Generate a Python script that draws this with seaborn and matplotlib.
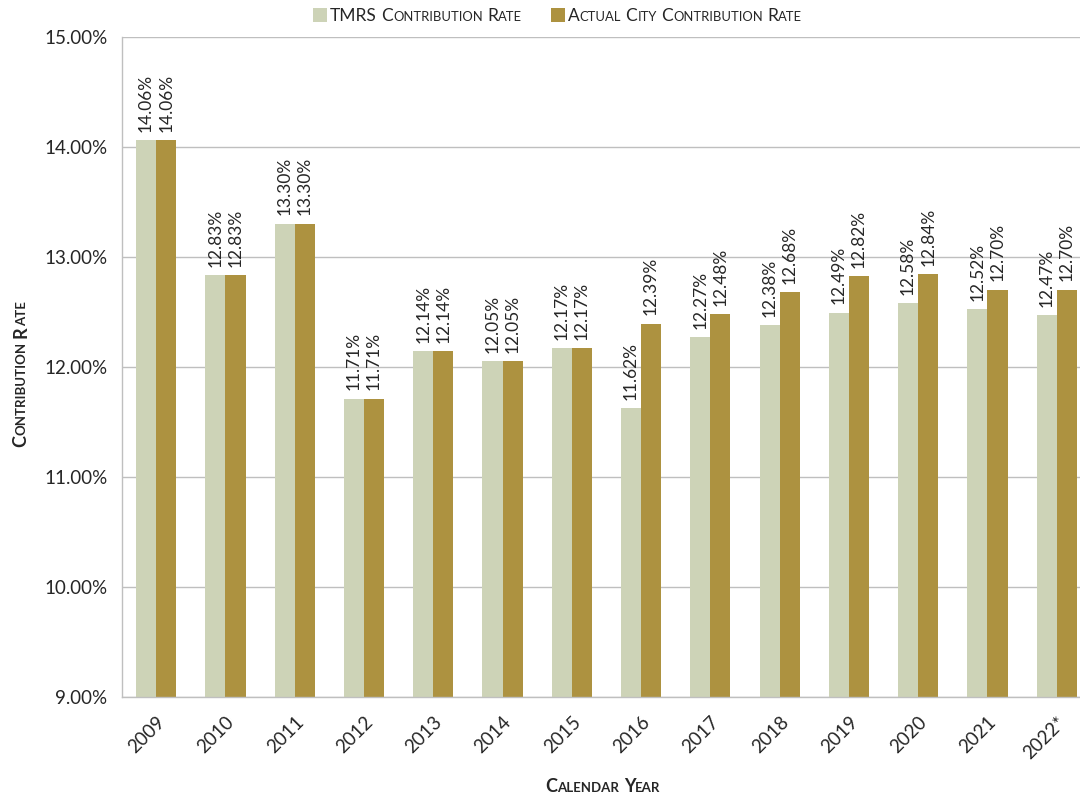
import matplotlib
matplotlib.use("Agg")
import matplotlib.pyplot as plt
import matplotlib.patches as mpatches
import numpy as np
import pandas as pd
import seaborn as sns

FONT = "Lato"
LIGHT = "#CDD3B7"
DARK = "#AD9240"
GRID = "#BFBFBF"
TEXT = "#262626"

years = ["2009", "2010", "2011", "2012", "2013", "2014", "2015",
         "2016", "2017", "2018", "2019", "2020", "2021", "2022*"]
tmrs_rate = [14.06, 12.83, 13.30, 11.71, 12.14, 12.05, 12.17,
             11.62, 12.27, 12.38, 12.49, 12.58, 12.52, 12.47]
city_rate = [14.06, 12.83, 13.30, 11.71, 12.14, 12.05, 12.17,
             12.39, 12.48, 12.68, 12.82, 12.84, 12.70, 12.70]
series_names = ["TMRS Contribution Rate", "Actual City Contribution Rate"]


# draws text in small caps, piece by piece, anchored at (x, y) in figure fraction
def smallcaps(fig, x, y, text, big, small, rotation=0, weight="normal", ha="center"):
    renderer = fig.canvas.get_renderer()
    W, H = fig.bbox.width, fig.bbox.height

    def width(s, size):
        t = fig.text(0, 0, s, fontsize=size, family=FONT, weight=weight)
        w = t.get_window_extent(renderer).width
        t.remove()
        return w

    pieces = []
    words = text.split(" ")
    for i, word in enumerate(words):
        if word.isupper():
            pieces.append((word, big))
        else:
            pieces.append((word[0].upper(), big))
            pieces.append((word[1:].upper(), small))
        if i < len(words) - 1:
            pieces.append((" ", big))

    space = width("x x", big) - width("xx", big)
    widths = [space if s == " " else width(s, size) for s, size in pieces]
    total = sum(widths)
    pos = -total / 2 if ha == "center" else 0
    for (s, size), w in zip(pieces, widths):
        if s != " ":
            if rotation == 90:
                px, py = x * W, y * H + pos
            else:
                px, py = x * W + pos, y * H
            fig.text(px / W, py / H, s, fontsize=size, family=FONT, weight=weight,
                     color=TEXT, rotation=rotation, rotation_mode="anchor",
                     ha="left", va="baseline")
        pos += w
    return total


df = pd.DataFrame({
    "Year": years * 2,
    "Rate": tmrs_rate + city_rate,
    "Series": [series_names[0]] * len(years) + [series_names[1]] * len(years),
})

sns.set_style("white")
plt.rcParams["font.family"] = [FONT, "DejaVu Sans"]

fig, ax = plt.subplots(figsize=(10.8, 7.98), dpi=100)
# the reference crops the plot area on the right edge
fig.subplots_adjust(left=0.1125, right=1.0105, top=0.954, bottom=0.127)

sns.barplot(data=df, x="Year", y="Rate", hue="Series", palette=[LIGHT, DARK],
            width=0.58, gap=0, saturation=1, linewidth=0, ax=ax, legend=False, zorder=2)

for container in ax.containers:
    for bar in container:
        h = bar.get_height()
        ax.annotate(f"{h:.2f}%", (bar.get_x() + bar.get_width() / 2, h),
                    xytext=(0, 6), textcoords="offset points", rotation=90,
                    ha="center", va="bottom", fontsize=12.5, color=TEXT)

ax.set_ylim(9, 15)
ax.set_yticks(np.arange(9, 15.01, 1))
ax.set_yticklabels([f"{v:.2f}%" for v in np.arange(9, 15.01, 1)], fontsize=13.5, color=TEXT)
ax.set_xlim(-0.5, len(years) - 0.5)
ax.set_xticks(np.arange(len(years)))
ax.set_xticklabels(years, rotation=45, ha="right", rotation_mode="anchor",
                   fontsize=13.5, color=TEXT)
ax.set_xticks(np.arange(-0.5, len(years)), minor=True)
ax.tick_params(axis="x", which="major", length=0, pad=12)
ax.tick_params(axis="x", which="minor", length=6, color=GRID, width=1)
ax.tick_params(axis="y", length=6, color=GRID, width=1, pad=4)
ax.yaxis.grid(True, color=GRID, linewidth=1, zorder=0)
ax.set_axisbelow(True)
for side in ["top", "right"]:
    ax.spines[side].set_visible(False)
for side in ["left", "bottom"]:
    ax.spines[side].set_color(GRID)
    ax.spines[side].set_linewidth(1)
ax.set_xlabel("")
ax.set_ylabel("")

fig.canvas.draw()
W, H = fig.bbox.width, fig.bbox.height

# axis titles in small caps
smallcaps(fig, 603 / W, 1 - 792 / H, "Calendar Year", 13, 9.5, weight="bold")
smallcaps(fig, 26 / W, 1 - 374 / H, "Contribution Rate", 13, 9.5, rotation=90, weight="bold")

# legend
for (sx, color, name) in [(313, LIGHT, series_names[0]), (551, DARK, series_names[1])]:
    fig.patches.append(mpatches.Rectangle((sx / W, 1 - 22 / H), 14 / W, 14 / H,
                                          transform=fig.transFigure, facecolor=color,
                                          edgecolor="none"))
    smallcaps(fig, (sx + 17) / W, 1 - 21 / H, name, 12.5, 9.4, ha="left")

fig.savefig("out.png", dpi=100)
